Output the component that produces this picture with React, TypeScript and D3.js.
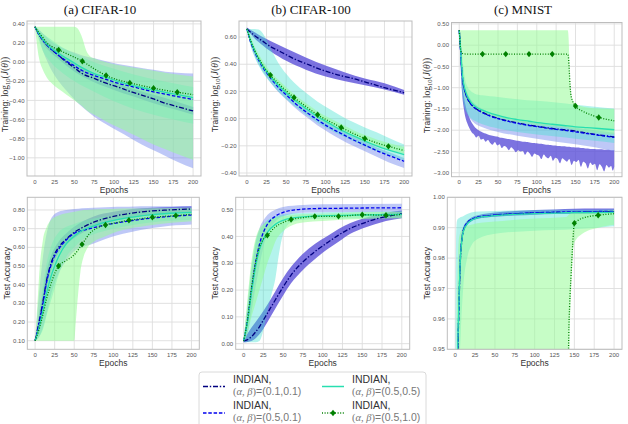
import React from "react";
import * as d3 from "d3";

const SANS = "'Liberation Sans', Arial, Helvetica, sans-serif";
const SERIF = "'Liberation Serif', 'DejaVu Serif', serif";

const epochTicks = [0, 25, 50, 75, 100, 125, 150, 175, 200];
const markerEpochs = [30, 60, 90, 120, 150, 180];
const panelTitles = ["(a) CIFAR-10", "(b) CIFAR-100", "(c) MNIST"];
const legendParams = ["(0.1,0.1)", "(0.5,0.1)", "(0.5,0.5)", "(0.5,1.0)"];

// y ticks
const c10TrainTicks = [0.4, 0.2, 0, -0.2, -0.4, -0.6, -0.8, -1.0];
const c100TrainTicks = [0.6, 0.4, 0.2, 0, -0.2, -0.4];
const mnistTrainTicks = [0.5, 0, -0.5, -1.0, -1.5, -2.0, -2.5, -3.0];
const c10TestTicks = [0.1, 0.2, 0.3, 0.4, 0.5, 0.6, 0.7, 0.8];
const c100TestTicks = [0, 0.1, 0.2, 0.3, 0.4, 0.5];
const mnistTestTicks = [0.95, 0.96, 0.97, 0.98, 0.99, 1.0];

// lines: [epoch, value]   bands: [epoch, lo, hi]
// A = (0.1,0.1)  B = (0.5,0.1)  C = (0.5,0.5)  D = (0.5,1.0)

// ---- CIFAR-10 training ----
const c10TrainLineA = [[0,0.37],[5,0.29],[10,0.23],[15,0.18],[20,0.14],[30,0.07],[40,0.0],[50,-0.06],[60,-0.12],[75,-0.17],[90,-0.22],[105,-0.26],[120,-0.305],[135,-0.345],[150,-0.385],[165,-0.43],[180,-0.465],[200,-0.51]];
const c10TrainLineB = [[0,0.37],[5,0.29],[10,0.23],[15,0.18],[20,0.14],[30,0.07],[40,0.01],[50,-0.04],[60,-0.09],[75,-0.14],[90,-0.18],[105,-0.22],[120,-0.25],[135,-0.28],[150,-0.31],[165,-0.335],[180,-0.36],[200,-0.39]];
const c10TrainLineC = [[0,0.37],[5,0.3],[10,0.24],[15,0.19],[20,0.15],[30,0.09],[40,0.04],[50,-0.01],[60,-0.06],[75,-0.12],[90,-0.16],[105,-0.2],[120,-0.235],[135,-0.265],[150,-0.29],[165,-0.315],[180,-0.34],[200,-0.37]];
const c10TrainLineD = [[0,0.37],[5,0.31],[10,0.26],[15,0.2],[20,0.17],[30,0.128],[45,0.07],[60,0.01],[75,-0.07],[90,-0.14],[105,-0.185],[120,-0.217],[135,-0.245],[150,-0.272],[165,-0.295],[180,-0.314],[200,-0.34]];
const c10TrainBandA = [[0,0.37,0.37],[10,0.2,0.26],[20,0.1,0.18],[30,0.03,0.11],[50,-0.1,-0.02],[75,-0.21,-0.13],[100,-0.29,-0.21],[125,-0.36,-0.28],[150,-0.43,-0.34],[175,-0.49,-0.4],[200,-0.55,-0.47]];
const c10TrainBandB = [[0,0.37,0.37],[5,0.25,0.34],[10,0.12,0.3],[15,0.02,0.26],[20,-0.07,0.22],[30,-0.2,0.17],[40,-0.3,0.13],[50,-0.39,0.1],[60,-0.47,0.07],[75,-0.57,0.04],[90,-0.65,0.01],[105,-0.72,-0.02],[120,-0.79,-0.04],[135,-0.86,-0.06],[150,-0.92,-0.08],[165,-0.98,-0.1],[180,-1.04,-0.11],[200,-1.11,-0.12]];
const c10TrainBandC = [[0,0.37,0.37],[10,0.12,0.3],[20,0.0,0.24],[30,-0.08,0.18],[50,-0.2,0.09],[75,-0.31,0.0],[100,-0.41,-0.07],[125,-0.49,-0.13],[150,-0.55,-0.18],[175,-0.6,-0.22],[200,-0.645,-0.26]];
const c10TrainBandD = [[0,0.37,0.37],[5,0.05,0.37],[10,-0.08,0.37],[15,-0.16,0.37],[20,-0.21,0.37],[25,-0.25,0.37],[30,-0.28,0.37],[40,-0.34,0.37],[50,-0.4,0.37],[55,-0.43,0.34],[60,-0.46,0.25],[65,-0.5,0.12],[70,-0.53,0.06],[75,-0.55,0.04],[90,-0.62,0.0],[105,-0.68,-0.03],[120,-0.74,-0.05],[135,-0.8,-0.07],[150,-0.86,-0.09],[165,-0.91,-0.11],[180,-0.96,-0.13],[200,-1.02,-0.15]];

// ---- CIFAR-100 training ----
const c100TrainLineA = [[0,0.66],[10,0.61],[20,0.57],[30,0.53],[40,0.5],[50,0.47],[60,0.44],[75,0.405],[90,0.37],[105,0.34],[120,0.315],[135,0.295],[150,0.27],[165,0.245],[180,0.22],[200,0.19]];
const c100TrainLineB = [[0,0.66],[5,0.56],[10,0.49],[15,0.43],[20,0.38],[30,0.3],[40,0.23],[50,0.175],[60,0.12],[75,0.05],[90,-0.01],[105,-0.065],[120,-0.11],[135,-0.155],[150,-0.195],[165,-0.235],[180,-0.27],[200,-0.314]];
const c100TrainLineC = [[0,0.66],[5,0.57],[10,0.5],[15,0.44],[20,0.39],[30,0.31],[40,0.245],[50,0.19],[60,0.14],[75,0.075],[90,0.015],[105,-0.035],[120,-0.085],[135,-0.125],[150,-0.165],[165,-0.2],[180,-0.23],[200,-0.265]];
const c100TrainLineD = [[0,0.66],[5,0.57],[10,0.5],[15,0.445],[20,0.395],[30,0.32],[40,0.26],[50,0.205],[60,0.155],[75,0.09],[90,0.028],[105,-0.02],[120,-0.065],[135,-0.108],[150,-0.146],[165,-0.178],[180,-0.204],[200,-0.234]];
const c100TrainBandA = [[0,0.66,0.67],[10,0.59,0.635],[20,0.54,0.6],[30,0.495,0.57],[50,0.425,0.515],[75,0.36,0.45],[100,0.31,0.39],[125,0.275,0.34],[150,0.245,0.295],[175,0.215,0.26],[200,0.175,0.21]];
const c100TrainBandB = [[0,0.66,0.66],[5,0.54,0.58],[10,0.46,0.51],[15,0.4,0.45],[20,0.35,0.4],[30,0.265,0.32],[40,0.195,0.255],[50,0.14,0.2],[60,0.085,0.145],[75,0.015,0.075],[90,-0.05,0.015],[105,-0.105,-0.04],[120,-0.155,-0.085],[135,-0.2,-0.13],[150,-0.24,-0.17],[165,-0.28,-0.21],[180,-0.32,-0.245],[200,-0.363,-0.29]];
const c100TrainBandC = [[0,0.66,0.66],[5,0.53,0.66],[10,0.45,0.66],[15,0.39,0.655],[20,0.34,0.63],[25,0.3,0.58],[30,0.265,0.52],[40,0.2,0.41],[50,0.145,0.33],[60,0.095,0.265],[75,0.03,0.19],[90,-0.03,0.125],[105,-0.08,0.07],[120,-0.125,0.02],[135,-0.165,-0.025],[150,-0.205,-0.065],[165,-0.24,-0.1],[180,-0.27,-0.14],[200,-0.31,-0.19]];
const c100TrainBandD = [[0,0.66,0.67],[5,0.55,0.6],[10,0.48,0.53],[15,0.42,0.475],[20,0.37,0.425],[30,0.295,0.345],[40,0.235,0.285],[50,0.18,0.23],[60,0.13,0.18],[75,0.065,0.115],[90,0.003,0.053],[105,-0.045,0.005],[120,-0.09,-0.04],[135,-0.133,-0.083],[150,-0.171,-0.121],[165,-0.203,-0.153],[180,-0.229,-0.179],[200,-0.259,-0.209]];

// ---- MNIST training ----
const mnistTrainLineA = [[0,0.35],[1,0.1],[2,-0.2],[3,-0.5],[4,-0.72],[5,-0.88],[7,-1.06],[10,-1.22],[15,-1.38],[20,-1.47],[25,-1.53],[30,-1.58],[40,-1.66],[50,-1.72],[60,-1.77],[75,-1.83],[90,-1.88],[105,-1.92],[120,-1.96],[135,-1.99],[150,-2.02],[165,-2.07],[180,-2.11],[200,-2.16]];
const mnistTrainLineB = [[0,0.35],[1,0.08],[2,-0.24],[3,-0.53],[4,-0.75],[5,-0.9],[7,-1.08],[10,-1.24],[15,-1.39],[20,-1.48],[25,-1.54],[30,-1.59],[40,-1.67],[50,-1.73],[60,-1.78],[75,-1.84],[90,-1.89],[105,-1.93],[120,-1.97],[135,-2.0],[150,-2.04],[165,-2.08],[180,-2.12],[200,-2.17]];
const mnistTrainLineC = [[0,0.35],[1,0.1],[2,-0.18],[3,-0.46],[4,-0.68],[5,-0.84],[7,-1.02],[10,-1.18],[15,-1.34],[20,-1.43],[25,-1.49],[30,-1.53],[40,-1.6],[50,-1.65],[60,-1.7],[75,-1.75],[90,-1.79],[105,-1.83],[120,-1.86],[135,-1.89],[150,-1.92],[165,-1.94],[180,-1.96],[200,-1.99]];
const mnistTrainLineD = [[0,0.35],[1,0.05],[2,-0.12],[3,-0.18],[5,-0.2],[10,-0.21],[30,-0.21],[60,-0.21],[90,-0.21],[120,-0.21],[140,-0.21],[141,-0.3],[142,-0.6],[143,-0.95],[144,-1.15],[146,-1.3],[150,-1.43],[160,-1.56],[170,-1.64],[180,-1.7],[190,-1.745],[200,-1.78]];
const mnistTrainBandA = [[0,0.35,0.35],[2,-0.6,-0.3],[4,-1.2,-0.9],[6,-1.5,-1.2],[8,-1.7,-1.4],[10,-1.82,-1.55],[13,-1.95,-1.7],[16,-2.05,-1.82],[19,-2.1,-1.9],[22,-2.17,-1.96],[25,-2.13,-2.0],[28,-2.22,-2.03],[31,-2.2,-2.06],[34,-2.27,-2.08],[37,-2.23,-2.1],[40,-2.3,-2.12],[43,-2.34,-2.13],[46,-2.28,-2.14],[49,-2.36,-2.15],[52,-2.33,-2.17],[55,-2.42,-2.18],[58,-2.37,-2.19],[61,-2.4,-2.2],[64,-2.47,-2.21],[67,-2.4,-2.22],[70,-2.45,-2.23],[73,-2.52,-2.24],[76,-2.47,-2.25],[79,-2.5,-2.26],[82,-2.49,-2.27],[85,-2.58,-2.27],[88,-2.5,-2.28],[91,-2.55,-2.29],[94,-2.63,-2.3],[97,-2.55,-2.3],[100,-2.58,-2.31],[103,-2.6,-2.32],[106,-2.68,-2.32],[109,-2.57,-2.33],[112,-2.63,-2.34],[115,-2.66,-2.34],[118,-2.6,-2.35],[121,-2.72,-2.36],[124,-2.65,-2.36],[127,-2.68,-2.37],[130,-2.78,-2.37],[133,-2.66,-2.38],[136,-2.7,-2.38],[139,-2.74,-2.39],[142,-2.68,-2.39],[145,-2.82,-2.4],[148,-2.72,-2.4],[151,-2.75,-2.41],[154,-2.7,-2.41],[157,-2.86,-2.42],[160,-2.74,-2.42],[163,-2.78,-2.43],[166,-2.9,-2.43],[169,-2.76,-2.44],[172,-2.82,-2.44],[175,-2.79,-2.44],[178,-2.94,-2.45],[181,-2.8,-2.45],[184,-2.86,-2.45],[187,-2.97,-2.46],[190,-2.82,-2.46],[193,-2.88,-2.46],[196,-2.84,-2.47],[198,-2.95,-2.47],[200,-2.86,-2.47]];
const mnistTrainBandB = [[0,0.35,0.35],[2,-0.45,-0.05],[4,-1.0,-0.6],[6,-1.3,-0.85],[10,-1.6,-1.1],[15,-1.75,-1.28],[20,-1.84,-1.38],[30,-1.93,-1.5],[50,-2.04,-1.65],[75,-2.13,-1.76],[100,-2.2,-1.83],[125,-2.27,-1.88],[150,-2.33,-1.94],[175,-2.4,-2.0],[200,-2.5,-2.06]];
const mnistTrainBandC = [[0,0.35,0.35],[2,-0.5,0.1],[3,-0.9,-0.1],[5,-1.3,-0.45],[7,-1.48,-0.75],[10,-1.6,-0.95],[15,-1.72,-1.08],[20,-1.78,-1.14],[30,-1.86,-1.18],[50,-1.96,-1.22],[75,-2.04,-1.27],[100,-2.1,-1.31],[125,-2.15,-1.35],[150,-2.2,-1.4],[175,-2.25,-1.45],[200,-2.3,-1.49]];
const mnistTrainBandD = [[0,0.35,0.35],[3,-0.6,0.35],[5,-1.0,0.35],[10,-1.3,0.35],[20,-1.5,0.35],[40,-1.65,0.35],[75,-1.8,0.35],[100,-1.88,0.35],[140,-1.95,0.35],[141,-1.96,0.2],[142,-1.97,-0.3],[143,-1.97,-0.8],[144,-1.98,-1.1],[146,-1.98,-1.28],[150,-2.0,-1.38],[160,-2.03,-1.45],[180,-2.07,-1.49],[200,-2.1,-1.5]];

// ---- CIFAR-10 test accuracy ----
const c10TestLineA = [[0,0.1],[5,0.2],[10,0.31],[15,0.43],[20,0.51],[25,0.565],[30,0.6],[40,0.645],[50,0.68],[60,0.705],[75,0.735],[90,0.755],[105,0.77],[120,0.781],[135,0.789],[150,0.795],[165,0.799],[180,0.802],[200,0.805]];
const c10TestLineB = [[0,0.1],[5,0.19],[10,0.3],[15,0.42],[20,0.5],[25,0.555],[30,0.59],[40,0.64],[50,0.675],[60,0.69],[75,0.705],[90,0.72],[105,0.731],[120,0.741],[135,0.75],[150,0.757],[165,0.763],[180,0.768],[200,0.773]];
const c10TestLineC = [[0,0.1],[5,0.17],[10,0.26],[15,0.36],[20,0.44],[25,0.5],[30,0.55],[40,0.62],[50,0.66],[60,0.69],[75,0.715],[90,0.735],[105,0.748],[120,0.76],[135,0.768],[150,0.775],[165,0.78],[180,0.784],[200,0.787]];
const c10TestLineD = [[0,0.1],[5,0.16],[10,0.24],[15,0.33],[20,0.4],[25,0.46],[30,0.5],[40,0.53],[50,0.56],[60,0.616],[70,0.675],[80,0.705],[90,0.72],[105,0.733],[120,0.745],[135,0.753],[150,0.761],[165,0.766],[180,0.77],[200,0.777]];
const c10TestBandA = [[0,0.1,0.1],[5,0.16,0.24],[10,0.26,0.36],[15,0.38,0.48],[20,0.47,0.55],[30,0.57,0.63],[40,0.615,0.675],[50,0.65,0.71],[75,0.705,0.765],[100,0.74,0.79],[125,0.76,0.805],[150,0.775,0.812],[175,0.782,0.816],[200,0.788,0.82]];
const c10TestBandB = [[0,0.1,0.1],[5,0.12,0.35],[10,0.17,0.55],[15,0.25,0.68],[20,0.34,0.75],[30,0.46,0.79],[40,0.53,0.8],[50,0.58,0.805],[60,0.6,0.81],[75,0.62,0.812],[90,0.645,0.815],[105,0.665,0.817],[120,0.68,0.818],[135,0.693,0.82],[150,0.703,0.82],[165,0.712,0.82],[180,0.718,0.82],[200,0.723,0.82]];
const c10TestBandC = [[0,0.1,0.1],[5,0.12,0.25],[10,0.16,0.4],[15,0.24,0.52],[20,0.31,0.6],[25,0.38,0.65],[30,0.45,0.68],[40,0.55,0.71],[50,0.6,0.725],[60,0.64,0.74],[75,0.67,0.755],[100,0.7,0.77],[125,0.72,0.785],[150,0.735,0.795],[175,0.742,0.8],[200,0.748,0.805]];
const c10TestBandD = [[0,0.1,0.1],[3,0.1,0.3],[6,0.1,0.5],[10,0.1,0.64],[15,0.1,0.71],[20,0.1,0.745],[30,0.1,0.77],[50,0.1,0.79],[52,0.2,0.792],[55,0.35,0.795],[58,0.47,0.797],[62,0.55,0.8],[66,0.59,0.8],[75,0.63,0.802],[90,0.66,0.805],[105,0.685,0.807],[120,0.7,0.808],[150,0.72,0.81],[200,0.74,0.812]];

// ---- CIFAR-100 test accuracy ----
const c100TestLineA = [[0,0.01],[5,0.015],[10,0.026],[15,0.043],[20,0.063],[25,0.088],[30,0.113],[40,0.163],[50,0.212],[60,0.256],[75,0.305],[90,0.343],[105,0.375],[120,0.405],[135,0.43],[150,0.448],[165,0.463],[180,0.474],[200,0.485]];
const c100TestLineB = [[0,0.01],[3,0.05],[5,0.09],[10,0.2],[15,0.3],[20,0.37],[25,0.415],[30,0.445],[40,0.475],[50,0.49],[60,0.497],[75,0.502],[90,0.504],[120,0.505],[150,0.506],[200,0.507]];
const c100TestLineC = [[0,0.01],[5,0.08],[10,0.19],[15,0.285],[20,0.35],[25,0.39],[30,0.415],[40,0.445],[50,0.46],[60,0.468],[75,0.473],[100,0.477],[150,0.48],[200,0.482]];
const c100TestLineD = [[0,0.01],[5,0.09],[10,0.21],[15,0.3],[20,0.36],[25,0.39],[30,0.404],[40,0.435],[50,0.452],[60,0.463],[75,0.47],[90,0.475],[120,0.475],[150,0.481],[180,0.479],[200,0.482]];
const c100TestBandA = [[0,0.005,0.015],[10,0.01,0.06],[20,0.035,0.1],[30,0.08,0.145],[40,0.13,0.195],[50,0.18,0.245],[60,0.225,0.287],[75,0.275,0.335],[90,0.315,0.372],[105,0.35,0.4],[120,0.38,0.428],[135,0.41,0.45],[150,0.43,0.466],[165,0.445,0.478],[180,0.458,0.488],[200,0.468,0.497]];
const c100TestBandB = [[0,0.005,0.015],[5,0.04,0.14],[10,0.12,0.27],[15,0.21,0.37],[20,0.29,0.43],[25,0.36,0.46],[30,0.41,0.48],[40,0.455,0.5],[50,0.475,0.51],[75,0.488,0.517],[100,0.49,0.52],[200,0.492,0.522]];
const c100TestBandC = [[0,0.005,0.015],[5,0.005,0.15],[10,0.005,0.29],[15,0.005,0.38],[20,0.01,0.42],[25,0.05,0.445],[30,0.12,0.46],[35,0.18,0.468],[40,0.24,0.475],[45,0.34,0.479],[50,0.41,0.482],[55,0.44,0.484],[60,0.452,0.486],[75,0.462,0.487],[100,0.466,0.49],[150,0.468,0.492],[200,0.47,0.493]];
const c100TestBandD = [[0,0.005,0.015],[5,0.04,0.17],[10,0.1,0.31],[15,0.15,0.39],[20,0.2,0.43],[25,0.25,0.445],[30,0.3,0.455],[35,0.34,0.465],[40,0.38,0.47],[50,0.42,0.475],[60,0.44,0.48],[75,0.452,0.483],[100,0.458,0.485],[150,0.465,0.49],[200,0.468,0.492]];

// ---- MNIST test accuracy ----
const mnistTestLineA = [[0,0.9],[2,0.93],[3,0.945],[4,0.957],[5,0.967],[6,0.976],[7,0.982],[8,0.985],[10,0.9888],[15,0.9915],[20,0.9926],[25,0.9931],[30,0.9935],[40,0.9938],[50,0.9941],[75,0.9945],[100,0.9948],[125,0.995],[150,0.9951],[175,0.9952],[200,0.9953]];
const mnistTestLineB = [[0,0.9],[2,0.93],[3,0.946],[4,0.958],[5,0.968],[6,0.977],[7,0.983],[8,0.9855],[10,0.989],[15,0.9916],[20,0.9927],[25,0.9932],[30,0.9936],[40,0.9939],[50,0.9942],[75,0.9946],[100,0.9949],[125,0.9951],[150,0.9952],[175,0.9953],[200,0.9954]];
const mnistTestLineC = [[0,0.9],[2,0.935],[3,0.95],[4,0.96],[5,0.969],[6,0.977],[7,0.982],[8,0.985],[10,0.9886],[15,0.9912],[20,0.9924],[25,0.993],[30,0.9934],[40,0.9937],[50,0.994],[75,0.9944],[100,0.9946],[125,0.9948],[150,0.995],[175,0.995],[200,0.9951]];
const mnistTestLineD = [[0,0.3],[30,0.3],[60,0.3],[90,0.3],[120,0.3],[140,0.3],[142,0.93],[143,0.955],[144,0.964],[146,0.975],[148,0.985],[150,0.9915],[155,0.9925],[165,0.9935],[180,0.9941],[200,0.9946]];
const mnistTestBandA = [[0,0.88,0.92],[2,0.92,0.94],[3,0.94,0.952],[4,0.953,0.962],[5,0.963,0.971],[6,0.972,0.979],[7,0.979,0.985],[8,0.983,0.988],[10,0.9875,0.99],[15,0.9908,0.9922],[20,0.992,0.9933],[30,0.993,0.9942],[50,0.9936,0.995],[75,0.994,0.9955],[100,0.9943,0.9958],[125,0.9945,0.996],[150,0.9946,0.9962],[175,0.9947,0.9963],[200,0.9948,0.9963]];
const mnistTestBandB = [[0,0.88,0.92],[2,0.92,0.94],[3,0.94,0.953],[4,0.954,0.963],[5,0.964,0.972],[6,0.973,0.98],[7,0.98,0.986],[8,0.984,0.9875],[10,0.988,0.9898],[15,0.991,0.992],[20,0.9921,0.9932],[30,0.9931,0.994],[50,0.9937,0.9947],[75,0.9941,0.9951],[100,0.9944,0.9954],[125,0.9946,0.9956],[150,0.9947,0.9957],[175,0.9948,0.9958],[200,0.9949,0.9959]];
const mnistTestBandC = [[0,0.5,0.9],[1,0.6,0.985],[2,0.7,0.992],[3,0.85,0.9928],[5,0.94,0.9932],[7,0.955,0.9935],[10,0.97,0.9938],[15,0.98,0.9945],[20,0.984,0.995],[30,0.9865,0.9953],[50,0.988,0.9955],[100,0.989,0.9958],[150,0.9895,0.9959],[200,0.9905,0.996]];
const mnistTestBandD = [[0,0.1,0.5],[1,0.1,0.8],[2,0.1,0.95],[3,0.1,0.975],[5,0.1,0.987],[10,0.1,0.99],[20,0.1,0.991],[50,0.1,0.992],[100,0.1,0.993],[140,0.1,0.9935],[142,0.6,0.994],[144,0.95,0.9945],[146,0.97,0.9948],[150,0.985,0.995],[160,0.988,0.9952],[180,0.99,0.9955],[200,0.991,0.9958]];

const STYLES = [
  { stroke: "#000080", dash: "5,1.8,1.4,1.8", band: "#5b50d8", bandOpacity: 0.8 },
  { stroke: "#0000ee", dash: "3.5,1.8", band: "#6f86ee", bandOpacity: 0.45 },
  { stroke: "#28dfb0", dash: null, band: "#40e0d0", bandOpacity: 0.4 },
  { stroke: "#008000", dash: "1,1.6", band: "#98fb98", bandOpacity: 0.55 },
];

const diamond = "M0,-3.2L2.6,0L0,3.2L-2.6,0Z";

function TrainLabel({ x, y }) {
  return (
    <text transform={`translate(${x},${y}) rotate(-90)`} textAnchor="middle" fontSize={8.5} fill="#333" dominantBaseline="central">
      <tspan fontFamily={SANS}>{"Training: "}</tspan>
      <tspan fontFamily={SERIF} fontSize={9.5}>log</tspan>
      <tspan fontFamily={SERIF} fontSize={6.5} dy={2}>10</tspan>
      <tspan fontFamily={SERIF} fontSize={9.5} dy={-2}>(</tspan>
      <tspan fontFamily={SERIF} fontSize={9.5} fontStyle="italic">J</tspan>
      <tspan fontFamily={SERIF} fontSize={9.5}>(</tspan>
      <tspan fontFamily={SERIF} fontSize={9.5} fontStyle="italic">θ</tspan>
      <tspan fontFamily={SERIF} fontSize={9.5}>))</tspan>
    </text>
  );
}

function Panel({ id, x0, x1, y0, y1, yDomain, yTicks, lines, bands, train, labelX }) {
  const x = d3.scaleLinear().domain([-10, 210]).range([x0, x1]);
  const y = d3.scaleLinear().domain(yDomain).range([y1, y0]);
  const area = d3.area().x((d) => x(d[0])).y0((d) => y(d[1])).y1((d) => y(d[2])).curve(d3.curveMonotoneX);
  const line = d3.line().x((d) => x(d[0])).y((d) => y(d[1])).curve(d3.curveMonotoneX);
  const fmt = d3.format(".2f");
  const cy = (y0 + y1) / 2;
  const markers = markerEpochs
    .map((e) => lines[3].find((r) => r[0] === e))
    .filter((r) => r);

  return (
    <g>
      <defs>
        <clipPath id={`clip-${id}`}>
          <rect x={x0} y={y0} width={x1 - x0} height={y1 - y0} />
        </clipPath>
      </defs>
      <rect x={x0} y={y0} width={x1 - x0} height={y1 - y0} fill="#fff" />
      {epochTicks.map((t) => (
        <line key={`gx${t}`} x1={x(t)} x2={x(t)} y1={y0} y2={y1} stroke="#dedede" strokeWidth={0.9} />
      ))}
      {yTicks.map((t) => (
        <line key={`gy${t}`} x1={x0} x2={x1} y1={y(t)} y2={y(t)} stroke="#dedede" strokeWidth={0.9} />
      ))}
      <g clipPath={`url(#clip-${id})`}>
        {bands.map((b, i) => (
          <path key={`b${i}`} d={area(b)} fill={STYLES[i].band} fillOpacity={STYLES[i].bandOpacity} stroke="none" />
        ))}
        {lines.map((l, i) => (
          <path key={`l${i}`} d={line(l)} fill="none" stroke={STYLES[i].stroke} strokeWidth={1.3}
            strokeDasharray={STYLES[i].dash || undefined} />
        ))}
        {markers.map((r) => (
          <path key={`m${r[0]}`} d={diamond} transform={`translate(${x(r[0])},${y(r[1])})`} fill="#008000" />
        ))}
      </g>
      <rect x={x0} y={y0} width={x1 - x0} height={y1 - y0} fill="none" stroke="#bdbdbd" strokeWidth={1} />
      {epochTicks.map((t) => (
        <text key={`tx${t}`} x={x(t)} y={y1 + 7.5} textAnchor="middle" fontSize={6} fontFamily={SANS} fill="#555">{t}</text>
      ))}
      {yTicks.map((t) => (
        <text key={`ty${t}`} x={x0 - 2.5} y={y(t) + 2.1} textAnchor="end" fontSize={6} fontFamily={SANS} fill="#555">{fmt(t)}</text>
      ))}
      <text x={(x0 + x1) / 2} y={y1 + 16.5} textAnchor="middle" fontSize={8.5} fontFamily={SANS} fill="#333">Epochs</text>
      {train ? (
        <TrainLabel x={labelX} y={cy - 4} />
      ) : (
        <text transform={`translate(${labelX},${cy}) rotate(-90)`} textAnchor="middle" dominantBaseline="central" fontSize={8.5} fontFamily={SANS} fill="#333">Test Accuracy</text>
      )}
    </g>
  );
}

const panels = [
  { id: "p1", x0: 27, x1: 201, y0: 21, y1: 176, yDomain: [-1.19, 0.43], yTicks: c10TrainTicks, train: true, labelX: 5,
    lines: [c10TrainLineA, c10TrainLineB, c10TrainLineC, c10TrainLineD], bands: [c10TrainBandA, c10TrainBandB, c10TrainBandC, c10TrainBandD] },
  { id: "p2", x0: 239, x1: 412, y0: 21, y1: 176, yDomain: [-0.422, 0.718], yTicks: c100TrainTicks, train: true, labelX: 215,
    lines: [c100TrainLineA, c100TrainLineB, c100TrainLineC, c100TrainLineD], bands: [c100TrainBandA, c100TrainBandB, c100TrainBandC, c100TrainBandD] },
  { id: "p3", x0: 451.5, x1: 622, y0: 22.5, y1: 176.7, yDomain: [-3.094, 0.533], yTicks: mnistTrainTicks, train: true, labelX: 427,
    lines: [mnistTrainLineA, mnistTrainLineB, mnistTrainLineC, mnistTrainLineD], bands: [mnistTrainBandA, mnistTrainBandB, mnistTrainBandC, mnistTrainBandD] },
  { id: "p4", x0: 27.3, x1: 199.3, y0: 197.3, y1: 349.3, yDomain: [0.054, 0.868], yTicks: c10TestTicks, train: false, labelX: 7,
    lines: [c10TestLineA, c10TestLineB, c10TestLineC, c10TestLineD], bands: [c10TestBandA, c10TestBandB, c10TestBandC, c10TestBandD] },
  { id: "p5", x0: 235.7, x1: 409.7, y0: 197.3, y1: 349.3, yDomain: [-0.021, 0.546], yTicks: c100TestTicks, train: false, labelX: 215,
    lines: [c100TestLineA, c100TestLineB, c100TestLineC, c100TestLineD], bands: [c100TestBandA, c100TestBandB, c100TestBandC, c100TestBandD] },
  { id: "p6", x0: 447.3, x1: 622, y0: 197.3, y1: 349.3, yDomain: [0.95, 1.0], yTicks: mnistTestTicks, train: false, labelX: 427,
    lines: [mnistTestLineA, mnistTestLineB, mnistTestLineC, mnistTestLineD], bands: [mnistTestBandA, mnistTestBandB, mnistTestBandC, mnistTestBandD] },
];

const titleX = [100, 311, 523];

function LegendEntry({ x, y, i }) {
  const s = STYLES[i];
  return (
    <g>
      <line x1={x} x2={x + 22} y1={y} y2={y} stroke={s.stroke} strokeWidth={1.5} strokeDasharray={s.dash || undefined} />
      {i === 3 && <path d={diamond} transform={`translate(${x + 11},${y})`} fill="#008000" />}
      <text x={x + 30} y={y - 4} fontSize={10.5} fontFamily={SANS} fill="#333">INDIAN,</text>
      <text x={x + 30} y={y + 8} fontSize={10.5} fill="#777">
        <tspan fontFamily={SERIF}>(</tspan>
        <tspan fontFamily={SERIF} fontStyle="italic">α</tspan>
        <tspan fontFamily={SERIF}>{", "}</tspan>
        <tspan fontFamily={SERIF} fontStyle="italic">β</tspan>
        <tspan fontFamily={SERIF}>)</tspan>
        <tspan fontFamily={SANS}>{"=" + legendParams[i]}</tspan>
      </text>
    </g>
  );
}

export default function App() {
  return (
    <svg width={628} height={424} viewBox="0 0 628 424"
      style={{ position: "absolute", left: 0, top: 0, display: "block", background: "#fff" }}>
      {panelTitles.map((t, i) => (
        <text key={t} x={titleX[i]} y={14} textAnchor="middle" fontSize={13} fontFamily={SERIF} fill="#111">{t}</text>
      ))}
      {panels.map((p) => (
        <Panel key={p.id} {...p} />
      ))}
      <rect x={199} y={372} width={227} height={60} rx={3} fill="#fff" stroke="#d0d0d0" strokeWidth={0.8} />
      <LegendEntry x={203} y={386.5} i={0} />
      <LegendEntry x={322} y={386.5} i={2} />
      <LegendEntry x={203} y={413} i={1} />
      <LegendEntry x={322} y={413} i={3} />
    </svg>
  );
}
